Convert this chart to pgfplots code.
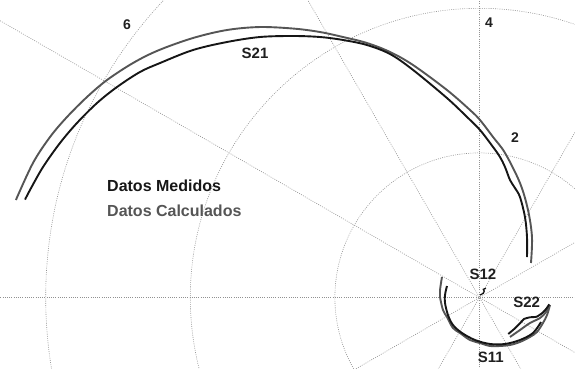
\documentclass[border=0pt]{standalone}
\usepackage{pgfplots}
\pgfplotsset{compat=1.18}
\usepackage{fontspec}
\setmainfont{Liberation Sans}

\definecolor{gridc}{RGB}{145,145,145}
\definecolor{calc}{RGB}{85,85,85}
\definecolor{meas}{RGB}{22,22,22}

\tikzset{
  gridl/.style={gridc, line width=0.6pt, dash pattern=on 0.9pt off 1.3pt},
  calcline/.style={calc, line width=1.9pt, smooth, tension=0.55},
  measline/.style={meas, line width=1.9pt, smooth, tension=0.55},
  lbl/.style={font=\fontsize{15}{17}\selectfont\bfseries, text=black!88},
  num/.style={font=\fontsize{14}{16}\selectfont\bfseries, text=black!88},
}

\begin{document}
\begin{tikzpicture}
\begin{axis}[
  scale only axis,
  width=575pt, height=369pt,
  xmin=-6.632, xmax=1.321,
  ymin=-0.989, ymax=4.115,
  axis lines=none, ticks=none,
  clip=true,
]
% polar grid: radial spokes every 30 degrees and circles at 2, 4, 6
\pgfplotsinvokeforeach{0,30,60,90,120,150}{
  \draw[gridl] (axis cs:{-9*cos(#1)},{-9*sin(#1)}) -- (axis cs:{9*cos(#1)},{9*sin(#1)});
}
\pgfplotsinvokeforeach{2,4,6}{
  \draw[gridl] (axis cs:0,0) circle[radius=#1];
}

% S21 calculated
\addplot[calcline] coordinates {
(0.712,0.477) (0.726,0.837) (0.671,1.210) (0.560,1.584) (0.353,1.999)
(0.187,2.220) (0.007,2.455) (-0.131,2.593) (-0.450,2.870) (-0.920,3.216)
(-1.238,3.396) (-1.556,3.520) (-1.888,3.603) (-2.206,3.672) (-2.565,3.719)
(-3.036,3.741) (-3.492,3.700) (-3.963,3.589) (-4.445,3.417) (-4.793,3.243)
(-5.152,3.008) (-5.429,2.773) (-5.705,2.497) (-5.940,2.220) (-6.176,1.860)
(-6.412,1.349)
};
% S21 measured
\addplot[measline] coordinates {
(0.657,0.560) (0.657,0.837) (0.629,1.113) (0.560,1.390) (0.491,1.514)
(0.422,1.625) (0.353,1.805) (0.284,1.943) (0.187,2.082) (0.007,2.317)
(-0.173,2.497) (-0.450,2.759) (-0.930,3.156) (-1.238,3.368) (-1.556,3.492)
(-1.888,3.562) (-2.206,3.603) (-2.580,3.617) (-3.036,3.603) (-3.492,3.534)
(-3.963,3.423) (-4.419,3.243) (-4.696,3.119) (-5.014,2.911) (-5.290,2.690)
(-5.567,2.414) (-5.802,2.137) (-6.037,1.805) (-6.217,1.487) (-6.286,1.354)
};

% S11 calculated
\addplot[calcline] coordinates {
(-0.519,0.284) (-0.546,0.104) (-0.546,0.007) (-0.505,-0.173) (-0.450,-0.270)
(-0.367,-0.422) (-0.270,-0.491) (-0.131,-0.588) (0.007,-0.630) (0.145,-0.671)
(0.284,-0.671) (0.422,-0.657) (0.560,-0.615) (0.698,-0.546) (0.795,-0.477)
(0.878,-0.353) (0.934,-0.242) (0.975,-0.104)
};
% S11 measured
\addplot[measline] coordinates {
(-0.450,0.159) (-0.477,0.035) (-0.477,-0.076) (-0.436,-0.242) (-0.367,-0.380)
(-0.242,-0.491) (-0.062,-0.588) (0.145,-0.643) (0.353,-0.643) (0.560,-0.588)
(0.740,-0.491) (0.851,-0.339)
};

% S22 calculated
\addplot[calcline] coordinates {
(0.422,-0.546) (0.560,-0.450) (0.698,-0.353) (0.837,-0.284) (0.920,-0.201)
(0.961,-0.118)
};
% S22 measured
\addplot[measline, tension=0.3] coordinates {
(0.398,-0.505) (0.491,-0.426) (0.560,-0.357) (0.616,-0.297) (0.699,-0.274)
(0.791,-0.266) (0.874,-0.210) (0.929,-0.149) (0.965,-0.094)
};

% S12
\addplot[measline, line width=1.3pt, tension=0.3] coordinates {
(0.007,0.035) (0.053,0.058) (0.066,0.090) (0.053,0.113) (0.090,0.127)
};

% labels
\node[lbl] at (axis cs:-3.105,3.382) {S21};
\node[lbl] at (axis cs:0.048,0.325) {S12};
\node[lbl] at (axis cs:0.653,-0.072) {S22};
\node[lbl] at (axis cs:0.155,-0.833) {S11};
\node[num] at (axis cs:-4.876,3.769) {6};
\node[num] at (axis cs:0.131,3.797) {4};
\node[num] at (axis cs:0.491,2.206) {2};

\node[anchor=west, inner sep=0pt, font=\fontsize{16}{18}\selectfont\bfseries, text=meas]
  at (axis cs:-5.152,1.542) {Datos Medidos};
\node[anchor=west, inner sep=0pt, font=\fontsize{16}{18}\selectfont\bfseries, text=calc]
  at (axis cs:-5.152,1.196) {Datos Calculados};
\end{axis}
\pgfresetboundingbox
\path (current axis.south west) rectangle (current axis.north east);
\end{tikzpicture}
\end{document}
